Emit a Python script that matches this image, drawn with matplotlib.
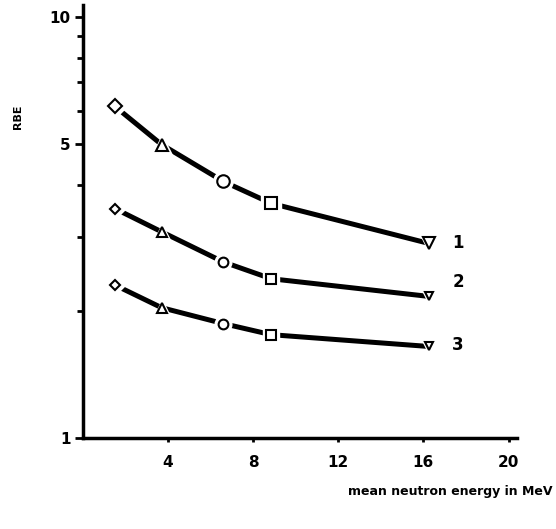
import matplotlib.pyplot as plt
from matplotlib.ticker import FixedLocator, NullFormatter

# mean neutron energy (MeV) of the five points on each curve
energy = [1.5, 3.7, 6.6, 8.85, 16.25]
rbe_1 = [6.14, 4.98, 4.07, 3.61, 2.90]
rbe_2 = [3.51, 3.09, 2.62, 2.39, 2.17]
rbe_3 = [2.31, 2.04, 1.87, 1.76, 1.65]
markers = ['D', '^', 'o', 's', 'v']
curve_names = ['1', '2', '3']

fig = plt.figure(figsize=(5.56, 5.29), dpi=100)
ax = fig.add_axes([0.149, 0.172, 0.781, 0.819])

curves = [rbe_1, rbe_2, rbe_3]
sizes = [9, 7, 7]
label_shift = [1.0, 1.08, 1.01]
for c in range(3):
	ys = curves[c]
	ax.plot(energy, ys, '-', color='black', lw=3.6, solid_capstyle='butt', zorder=2)
	for i in range(len(energy)):
		ms = sizes[c]
		if markers[i] == 'D':
			ms = ms * 0.75
		if markers[i] == 'v':
			ms = ms * 0.9
		# white halo gives the small gap between line and marker
		ax.plot(energy[i], ys[i], marker=markers[i], ms=ms + 5, color='white',
			mec='white', zorder=3)
		ax.plot(energy[i], ys[i], marker=markers[i], ms=ms, mfc='white',
			mec='black', mew=1.5, zorder=4)
	ax.text(energy[-1] + 1.1, ys[-1] * label_shift[c], curve_names[c], fontsize=12,
		fontweight='bold', va='center', ha='left')

ax.set_yscale('log')
ax.set_xlim(0, 20.4)
ax.set_ylim(1, 10.7)

ax.xaxis.set_major_locator(FixedLocator([4, 8, 12, 16, 20]))
ax.yaxis.set_major_locator(FixedLocator([1, 5, 10]))
ax.yaxis.set_minor_locator(FixedLocator([2, 3, 4, 6, 7, 8, 9]))
ax.yaxis.set_minor_formatter(NullFormatter())
ax.set_yticklabels(['1', '5', '10'])

ax.spines['top'].set_visible(False)
ax.spines['right'].set_visible(False)
ax.spines['left'].set_linewidth(2.5)
ax.spines['bottom'].set_linewidth(2.5)

ax.tick_params(axis='y', which='major', length=6, width=2, pad=3, labelsize=11)
ax.tick_params(axis='y', which='minor', length=4, width=2)
ax.tick_params(axis='x', which='major', length=3, width=2, pad=9, labelsize=11)
for lab in ax.get_xticklabels() + ax.get_yticklabels():
	lab.set_fontweight('bold')

fig.text(0.033, 0.78, 'RBE', rotation=90, fontsize=8, fontweight='bold',
	ha='center', va='center')
fig.text(0.993, 0.07, 'mean neutron energy in MeV', fontsize=9, fontweight='bold',
	ha='right', va='center')

fig.savefig('out.png', dpi=100)
